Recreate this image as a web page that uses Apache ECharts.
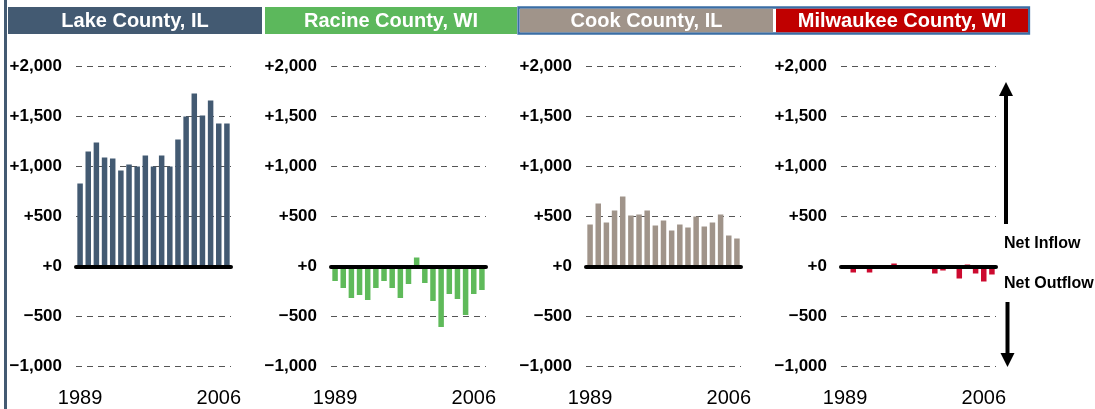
<!DOCTYPE html>
<html>
<head>
<meta charset="utf-8">
<script src="https://cdn.jsdelivr.net/npm/echarts@6/dist/echarts.min.js"></script>
<style>
  html, body { margin: 0; padding: 0; background: #fff; }
  #app { width: 1095px; height: 409px; }
</style>
</head>
<body>
<div id="app"></div>
<script>
const years = ['1989','1990','1991','1992','1993','1994','1995','1996','1997','1998','1999','2000','2001','2002','2003','2004','2005','2006','2007'];
const counties = ['Lake County, IL', 'Racine County, WI', 'Cook County, IL', 'Milwaukee County, WI'];
const lake = [830, 1150, 1240, 1090, 1080, 960, 1020, 1000, 1110, 1000, 1110, 1000, 1270, 1500, 1730, 1510, 1660, 1430, 1430];
const racine = [-145, -215, -315, -285, -335, -215, -145, -215, -315, -175, 90, -165, -345, -605, -275, -325, -485, -275, -235];
const cook = [420, 630, 440, 560, 700, 510, 520, 560, 410, 460, 360, 420, 390, 500, 400, 440, 520, 310, 280];
const milwaukee = [0, -60, 0, -60, 0, 0, 30, 0, 0, 0, 0, -70, -40, 0, -120, 20, -70, -150, -80];
const shownYears = ['1989', '2006'];

const barColors = ['#435a72', '#5fba5a', '#a0948a', '#cc0a2f'];
const headColors = ['#435a72', '#5cb85c', '#a0948a', '#c00000'];
const FONT = '"Liberation Sans", Arial, sans-serif';

const myChart = echarts.init(document.getElementById('app'));

const fmt = v => {
  const s = Math.abs(v).toLocaleString('en-US');
  return v < 0 ? '\u2212' + s : '+' + s;
};

const allData = [lake, racine, cook, milwaukee];
const lefts = [76, 331, 586, 841];

const grid = lefts.map(l => ({ left: l, width: 155, top: 66.5, height: 300 }));

const xAxis = lefts.map((_, i) => ({
  type: 'category',
  gridIndex: i,
  data: years,
  axisLine: { show: false },
  axisTick: { show: false },
  axisLabel: {
    interval: (idx, val) => shownYears.includes(val),
    color: '#000',
    fontSize: 20,
    fontFamily: FONT,
    margin: 22
  }
}));

const yAxis = lefts.map((_, i) => ({
  type: 'value',
  gridIndex: i,
  min: -1000,
  max: 2000,
  interval: 500,
  axisLine: { show: false },
  axisTick: { show: false },
  axisLabel: {
    formatter: fmt,
    color: '#000',
    fontWeight: 'bold',
    fontSize: 17,
    fontFamily: FONT,
    margin: 14
  },
  splitLine: {
    lineStyle: { color: '#555', type: [6, 5], width: 1 }
  }
}));

const series = allData.map((d, i) => ({
  type: 'bar',
  xAxisIndex: i,
  yAxisIndex: i,
  data: d,
  barWidth: 5.5,
  itemStyle: { color: barColors[i] },
  animation: false,
  markLine: {
    silent: true,
    symbol: 'none',
    label: { show: false },
    lineStyle: { color: '#000', width: 4, type: 'solid', cap: 'round' },
    data: [{ yAxis: 0 }],
    animation: false
  }
}));

const headX = [8, 265, 520, 776];
const headW = [254, 252, 253, 252];
const graphic = [
  { type: 'rect', shape: { x: 4, y: 0, width: 3, height: 409 }, style: { fill: '#435a72' } },
  { type: 'rect', shape: { x: 518.5, y: 7.5, width: 510.5, height: 26 }, style: { fill: 'none', stroke: '#3a6ea5', lineWidth: 2.3 } }
];
counties.forEach((name, i) => {
  graphic.push({ type: 'rect', shape: { x: headX[i], y: i < 2 ? 7 : 8.7, width: headW[i], height: i < 2 ? 27 : 23.6 }, style: { fill: headColors[i] } });
  graphic.push({
    type: 'text', x: headX[i] + headW[i] / 2, y: 21,
    style: { text: name, fill: '#fff', font: 'bold 20px ' + FONT, textAlign: 'center', textVerticalAlign: 'middle' }
  });
});
// up / down arrows with labels
graphic.push(
  { type: 'rect', shape: { x: 1004, y: 92, width: 4, height: 132 }, style: { fill: '#000' } },
  { type: 'polygon', shape: { points: [[1006, 82], [999, 96], [1013, 96]] }, style: { fill: '#000' } },
  { type: 'rect', shape: { x: 1005.5, y: 302, width: 4, height: 54 }, style: { fill: '#000' } },
  { type: 'polygon', shape: { points: [[1007.5, 367], [1000.5, 353], [1014.5, 353]] }, style: { fill: '#000' } },
  { type: 'text', x: 1004, y: 244, style: { text: 'Net Inflow', fill: '#000', font: 'bold 16px ' + FONT, textVerticalAlign: 'middle' } },
  { type: 'text', x: 1004, y: 284, style: { text: 'Net Outflow', fill: '#000', font: 'bold 16px ' + FONT, textVerticalAlign: 'middle' } }
);

myChart.setOption({
  backgroundColor: '#fff',
  animation: false,
  grid,
  xAxis,
  yAxis,
  series,
  graphic
});
</script>
</body>
</html>
